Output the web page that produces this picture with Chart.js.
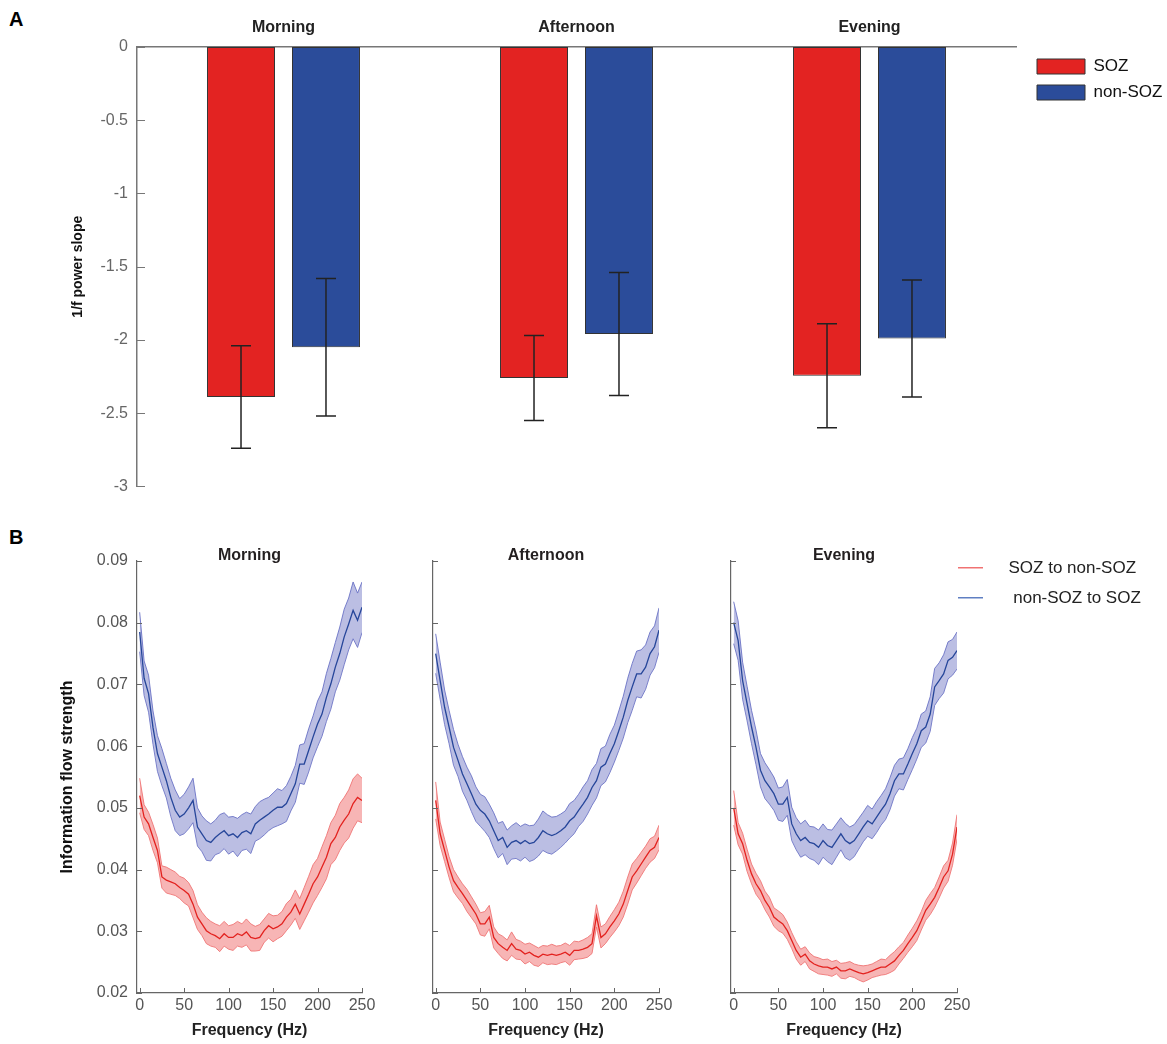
<!DOCTYPE html>
<html>
<head>
<meta charset="utf-8">
<title>1/f power slope and information flow</title>
<script src="https://cdn.jsdelivr.net/npm/chart.js@4.4.6/dist/chart.umd.min.js"></script>
<style>
  html, body { margin: 0; background: #fff; }
  body { width: 1167px; height: 1044px; position: relative; overflow: hidden; font-family: "Liberation Sans", Arial, sans-serif; }
  .box { position: absolute; }
  .panel-label { position: absolute; font-weight: bold; font-size: 20px; line-height: 20px; color: #000; }
</style>
</head>
<body>
<div class="panel-label" style="left:9px;top:9px">A</div>
<div class="panel-label" style="left:9px;top:527px">B</div>
<div class="box" style="left:0;top:0;width:1167px;height:505px"><canvas id="slope"></canvas></div>
<div class="box" style="left:0;top:520px;width:400px;height:524px"><canvas id="flowMorning"></canvas></div>
<div class="box" style="left:423px;top:520px;width:260px;height:524px"><canvas id="flowAfternoon"></canvas></div>
<div class="box" style="left:721px;top:520px;width:446px;height:524px"><canvas id="flowEvening"></canvas></div>
<script>
// ---- panel A: 1/f power slope per time of day ----
const periods = ["Morning", "Afternoon", "Evening"]
const slopeSoz = [-2.39, -2.26, -2.245]
const slopeNonSoz = [-2.05, -1.96, -1.99]
const slopeSozErr = [0.35, 0.29, 0.355]
const slopeNonSozErr = [0.47, 0.42, 0.40]
const slopeTicks = [0, -0.5, -1, -1.5, -2, -2.5, -3]

// ---- panel B: information flow strength vs frequency ----
const freqHz = [
  0, 5, 10, 15, 20, 25, 30, 35, 40, 45,
  50, 55, 60, 65, 70, 75, 80, 85, 90, 95,
  100, 105, 110, 115, 120, 125, 130, 135, 140, 145,
  150, 155, 160, 165, 170, 175, 180, 185, 190, 195,
  200, 205, 210, 215, 220, 225, 230, 235, 240, 245,
  250]
const freqTicks = [0, 50, 100, 150, 200, 250]
const flowTicks = [0.02, 0.03, 0.04, 0.05, 0.06, 0.07, 0.08, 0.09]

const morningNonSozToSoz = [
  0.0785, 0.0710, 0.0685, 0.0630, 0.0588, 0.0566, 0.0544, 0.0517, 0.0496, 0.0485,
  0.0490, 0.0500, 0.0512, 0.0469, 0.0458, 0.0447, 0.0444, 0.0452, 0.0458, 0.0463,
  0.0455, 0.0458, 0.0452, 0.0460, 0.0463, 0.0458, 0.0474, 0.0480, 0.0485, 0.0490,
  0.0496, 0.0501, 0.0501, 0.0507, 0.0523, 0.0539, 0.0571, 0.0571, 0.0593, 0.0615,
  0.0636, 0.0652, 0.0679, 0.0701, 0.0728, 0.0750, 0.0777, 0.0798, 0.0820, 0.0804,
  0.0825]
const morningNonSozToSozSem = [
  0.0032, 0.0028, 0.0030, 0.0027, 0.0029, 0.0030, 0.0028, 0.0031, 0.0033, 0.0030,
  0.0032, 0.0034, 0.0036, 0.0031, 0.0029, 0.0032, 0.0030, 0.0028, 0.0031, 0.0029,
  0.0030, 0.0028, 0.0031, 0.0029, 0.0030, 0.0032, 0.0028, 0.0030, 0.0029, 0.0027,
  0.0028, 0.0030, 0.0027, 0.0029, 0.0028, 0.0030, 0.0031, 0.0033, 0.0035, 0.0034,
  0.0037, 0.0036, 0.0039, 0.0041, 0.0040, 0.0043, 0.0045, 0.0042, 0.0046, 0.0044,
  0.0041]
const morningSozToNonSoz = [
  0.0520, 0.0485, 0.0474, 0.0452, 0.0431, 0.0388, 0.0383, 0.0380, 0.0377, 0.0371,
  0.0366, 0.0360, 0.0344, 0.0323, 0.0312, 0.0301, 0.0296, 0.0293, 0.0288, 0.0296,
  0.0290, 0.0290, 0.0296, 0.0293, 0.0299, 0.0290, 0.0288, 0.0290, 0.0301, 0.0309,
  0.0304, 0.0307, 0.0312, 0.0323, 0.0331, 0.0344, 0.0328, 0.0344, 0.0360, 0.0377,
  0.0388, 0.0404, 0.0420, 0.0442, 0.0452, 0.0469, 0.0480, 0.0490, 0.0507, 0.0517,
  0.0512]
const morningSozToNonSozSem = [
  0.0028, 0.0020, 0.0019, 0.0021, 0.0020, 0.0018, 0.0021, 0.0020, 0.0019, 0.0018,
  0.0020, 0.0019, 0.0022, 0.0020, 0.0019, 0.0021, 0.0020, 0.0019, 0.0021, 0.0020,
  0.0019, 0.0021, 0.0020, 0.0019, 0.0021, 0.0022, 0.0020, 0.0021, 0.0019, 0.0020,
  0.0021, 0.0019, 0.0020, 0.0022, 0.0021, 0.0023, 0.0025, 0.0027, 0.0029, 0.0031,
  0.0030, 0.0033, 0.0035, 0.0034, 0.0036, 0.0038, 0.0037, 0.0039, 0.0040, 0.0038,
  0.0036]

const afternoonNonSozToSoz = [
  0.0750, 0.0706, 0.0663, 0.0631, 0.0598, 0.0577, 0.0555, 0.0539, 0.0523, 0.0506,
  0.0496, 0.0490, 0.0479, 0.0463, 0.0447, 0.0452, 0.0436, 0.0444, 0.0447, 0.0442,
  0.0447, 0.0442, 0.0444, 0.0452, 0.0463, 0.0458, 0.0455, 0.0458, 0.0463, 0.0469,
  0.0479, 0.0485, 0.0496, 0.0506, 0.0517, 0.0533, 0.0544, 0.0566, 0.0571, 0.0588,
  0.0604, 0.0625, 0.0647, 0.0674, 0.0696, 0.0717, 0.0717, 0.0728, 0.0750, 0.0761,
  0.0788]
const afternoonNonSozToSozSem = [
  0.0032, 0.0030, 0.0028, 0.0027, 0.0029, 0.0026, 0.0028, 0.0027, 0.0029, 0.0028,
  0.0026, 0.0028, 0.0027, 0.0029, 0.0028, 0.0026, 0.0028, 0.0027, 0.0029, 0.0028,
  0.0027, 0.0029, 0.0028, 0.0030, 0.0032, 0.0031, 0.0030, 0.0028, 0.0027, 0.0026,
  0.0028, 0.0027, 0.0026, 0.0028, 0.0027, 0.0029, 0.0028, 0.0030, 0.0029, 0.0031,
  0.0030, 0.0032, 0.0034, 0.0036, 0.0038, 0.0037, 0.0039, 0.0036, 0.0035, 0.0034,
  0.0036]
const afternoonSozToNonSoz = [
  0.0512, 0.0458, 0.0431, 0.0404, 0.0382, 0.0371, 0.0361, 0.0350, 0.0339, 0.0328,
  0.0312, 0.0312, 0.0323, 0.0290, 0.0280, 0.0274, 0.0269, 0.0280, 0.0271, 0.0269,
  0.0263, 0.0266, 0.0261, 0.0258, 0.0263, 0.0261, 0.0263, 0.0261, 0.0263, 0.0266,
  0.0261, 0.0269, 0.0269, 0.0271, 0.0274, 0.0280, 0.0325, 0.0290, 0.0296, 0.0307,
  0.0317, 0.0328, 0.0344, 0.0366, 0.0388, 0.0398, 0.0409, 0.0420, 0.0431, 0.0436,
  0.0452]
const afternoonSozToNonSozSem = [
  0.0030, 0.0019, 0.0018, 0.0017, 0.0018, 0.0017, 0.0016, 0.0018, 0.0017, 0.0016,
  0.0018, 0.0020, 0.0019, 0.0017, 0.0016, 0.0018, 0.0017, 0.0019, 0.0016, 0.0015,
  0.0016, 0.0015, 0.0016, 0.0015, 0.0014, 0.0015, 0.0016, 0.0015, 0.0014, 0.0015,
  0.0016, 0.0015, 0.0014, 0.0015, 0.0016, 0.0016, 0.0018, 0.0017, 0.0016, 0.0017,
  0.0018, 0.0019, 0.0021, 0.0022, 0.0021, 0.0020, 0.0019, 0.0018, 0.0019, 0.0018,
  0.0020]

const eveningNonSozToSoz = [
  0.0800, 0.0771, 0.0706, 0.0669, 0.0631, 0.0598, 0.0561, 0.0544, 0.0534, 0.0523,
  0.0506, 0.0506, 0.0517, 0.0474, 0.0458, 0.0447, 0.0452, 0.0444, 0.0442, 0.0436,
  0.0447, 0.0439, 0.0436, 0.0447, 0.0458, 0.0447, 0.0442, 0.0447, 0.0458, 0.0469,
  0.0479, 0.0474, 0.0485, 0.0496, 0.0506, 0.0523, 0.0544, 0.0555, 0.0555, 0.0571,
  0.0588, 0.0604, 0.0625, 0.0631, 0.0652, 0.0696, 0.0706, 0.0717, 0.0739, 0.0744,
  0.0755]
const eveningNonSozToSozSem = [
  0.0034, 0.0032, 0.0030, 0.0028, 0.0027, 0.0028, 0.0027, 0.0029, 0.0028, 0.0027,
  0.0026, 0.0028, 0.0029, 0.0027, 0.0026, 0.0027, 0.0028, 0.0026, 0.0027, 0.0028,
  0.0027, 0.0026, 0.0028, 0.0027, 0.0026, 0.0028, 0.0027, 0.0026, 0.0025, 0.0024,
  0.0025, 0.0024, 0.0025, 0.0024, 0.0025, 0.0026, 0.0025, 0.0024, 0.0026, 0.0025,
  0.0026, 0.0025, 0.0027, 0.0026, 0.0028, 0.0030, 0.0029, 0.0031, 0.0030, 0.0029,
  0.0030]
const eveningSozToNonSoz = [
  0.0500, 0.0458, 0.0442, 0.0415, 0.0393, 0.0377, 0.0366, 0.0350, 0.0339, 0.0323,
  0.0317, 0.0312, 0.0301, 0.0285, 0.0269, 0.0258, 0.0263, 0.0252, 0.0247, 0.0244,
  0.0242, 0.0242, 0.0239, 0.0242, 0.0236, 0.0236, 0.0239, 0.0236, 0.0233, 0.0231,
  0.0233, 0.0236, 0.0239, 0.0242, 0.0242, 0.0247, 0.0252, 0.0261, 0.0269, 0.0280,
  0.0290, 0.0301, 0.0317, 0.0334, 0.0344, 0.0355, 0.0371, 0.0388, 0.0398, 0.0425,
  0.0469]
const eveningSozToNonSozSem = [
  0.0028, 0.0018, 0.0017, 0.0018, 0.0016, 0.0017, 0.0016, 0.0015, 0.0016, 0.0015,
  0.0016, 0.0015, 0.0014, 0.0013, 0.0014, 0.0013, 0.0012, 0.0013, 0.0012, 0.0013,
  0.0012, 0.0013, 0.0012, 0.0011, 0.0012, 0.0013, 0.0012, 0.0011, 0.0012, 0.0013,
  0.0012, 0.0011, 0.0012, 0.0013, 0.0012, 0.0014, 0.0015, 0.0014, 0.0013, 0.0014,
  0.0015, 0.0016, 0.0015, 0.0016, 0.0017, 0.0016, 0.0017, 0.0018, 0.0017, 0.0018,
  0.0020]

const FONT = '"Liberation Sans", Arial, sans-serif'
Chart.defaults.font.family = FONT
Chart.defaults.animation = false

const RED = "#e32322"
const BLUE = "#2b4c9a"
const red = { line: "#e3221f", edge: "rgba(238, 110, 110, 0.85)", fill: "rgba(240, 120, 120, 0.55)", legend: "#f07272" }
const blue = { line: "#26469a", edge: "rgba(100, 108, 195, 0.85)", fill: "rgba(120, 125, 200, 0.5)", legend: "#5f7fc2" }

// MATLAB style: short tick marks pointing into the plot
const innerTicks = {
  id: "innerTicks",
  afterDraw(chart, args, opts) {
    const { ctx, chartArea } = chart
    ctx.save()
    ctx.strokeStyle = opts.color || "#666"
    ctx.lineWidth = 1
    ctx.beginPath()
    const y = chart.scales.y
    if (opts.y) y.ticks.forEach((t) => {
      const py = Math.round(y.getPixelForValue(t.value)) + 0.5
      ctx.moveTo(chartArea.left, py)
      ctx.lineTo(chartArea.left + opts.y, py)
    })
    const x = chart.scales.x
    if (opts.x) x.ticks.forEach((t) => {
      const px = Math.round(x.getPixelForValue(t.value)) + 0.5
      ctx.moveTo(px, chartArea.bottom)
      ctx.lineTo(px, chartArea.bottom - opts.x)
    })
    ctx.stroke()
    ctx.restore()
  }
}

// mean +/- error whiskers on top of each bar
const errorBars = {
  id: "errorBars",
  afterDatasetsDraw(chart, args, opts) {
    const { ctx } = chart
    const y = chart.scales.y
    ctx.save()
    ctx.strokeStyle = opts.color
    ctx.lineWidth = opts.width
    chart.data.datasets.forEach((ds, i) => {
      if (!ds.errors) return
      chart.getDatasetMeta(i).data.forEach((bar, j) => {
        const top = y.getPixelForValue(ds.data[j] + ds.errors[j])
        const bottom = y.getPixelForValue(ds.data[j] - ds.errors[j])
        ctx.beginPath()
        ctx.moveTo(bar.x, top)
        ctx.lineTo(bar.x, bottom)
        ctx.moveTo(bar.x - opts.cap, top)
        ctx.lineTo(bar.x + opts.cap, top)
        ctx.moveTo(bar.x - opts.cap, bottom)
        ctx.lineTo(bar.x + opts.cap, bottom)
        ctx.stroke()
      })
    })
    ctx.restore()
  }
}

// move the legend box after layout (plot area stays put) and let it
// run to the canvas edge so the labels are not clipped
const legendNudge = {
  id: "legendNudge",
  afterLayout(chart, args, opts) {
    const lg = chart.legend
    if (!lg) return
    lg.left += opts.dx || 0
    lg.top += opts.dy || 0
    lg.right = chart.width
    lg.bottom = chart.height
    lg.width = lg.right - lg.left
    lg.height = lg.bottom - lg.top
  }
}

new Chart(document.getElementById("slope"), {
  type: "bar",
  data: {
    labels: periods,
    datasets: [
      { label: "SOZ", data: slopeSoz, errors: slopeSozErr, backgroundColor: RED, borderColor: "#333", borderWidth: 1, borderSkipped: false },
      { label: "non-SOZ", data: slopeNonSoz, errors: slopeNonSozErr, backgroundColor: BLUE, borderColor: "#333", borderWidth: 1, borderSkipped: false }
    ]
  },
  options: {
    responsive: true,
    maintainAspectRatio: false,
    categoryPercentage: 0.58,
    barPercentage: 0.8,
    layout: { padding: { left: 0, right: 21, top: 0, bottom: 16 } },
    scales: {
      x: {
        position: "top",
        grid: { display: false, drawTicks: false },
        border: { display: true, color: "#777", width: 1.5 },
        ticks: { color: "#222", font: { size: 16, weight: "bold" }, padding: 10 },
        afterFit: (s) => { s.height = 47 }
      },
      y: {
        min: -3,
        max: 0,
        afterBuildTicks: (s) => { s.ticks = slopeTicks.map((v) => ({ value: v })) },
        grid: { display: false, drawTicks: false },
        border: { display: true, color: "#777", width: 1.5 },
        ticks: { color: "#666", font: { size: 16 }, padding: 9, callback: (v) => String(v) },
        title: { display: true, text: "1/f power slope", color: "#111", font: { size: 14, weight: "bold" }, padding: { top: 70, bottom: 0 } },
        afterFit: (s) => { s.width = 137 }
      }
    },
    plugins: {
      legend: {
        position: "right",
        align: "start",
        maxWidth: 130,
        labels: { boxWidth: 48, boxHeight: 15, padding: 9, color: "#111", font: { size: 17 } }
      },
      tooltip: { enabled: false },
      legendNudge: { dx: 12, dy: 49 },
      innerTicks: { y: 8, color: "#777" },
      errorBars: { color: "#222", width: 1.5, cap: 10 }
    }
  },
  plugins: [legendNudge, innerTicks, errorBars]
})

// little line swatch with a gap after it, used as legend symbol in panel B
function legendLine(color) {
  const c = document.createElement("canvas")
  c.width = 42
  c.height = 3
  const g = c.getContext("2d")
  g.fillStyle = color
  g.fillRect(0, 0, 25, 2)
  return c
}

function xy(values, sem, sign) {
  return values.map((v, i) => ({ x: freqHz[i], y: sem ? v + sign * sem[i] : v }))
}

function flowChart(id, title, soz, sozSem, nonSoz, nonSozSem, opts) {
  const band = (mean, sem, c) => [
    { label: "", data: xy(mean, sem, 1), borderColor: c.edge, borderWidth: 1, backgroundColor: c.fill, fill: "+1", pointRadius: 0 },
    { label: "", data: xy(mean, sem, -1), borderColor: c.edge, borderWidth: 1, fill: false, pointRadius: 0 }
  ]
  return new Chart(document.getElementById(id), {
    type: "line",
    data: {
      datasets: [
        { label: "SOZ to non-SOZ", data: xy(soz), borderColor: red.line, borderWidth: 1.3, pointRadius: 0, pointStyle: legendLine(red.legend) },
        { label: " non-SOZ to SOZ", data: xy(nonSoz), borderColor: blue.line, borderWidth: 1.3, pointRadius: 0, pointStyle: legendLine(blue.legend) },
        ...band(soz, sozSem, red),
        ...band(nonSoz, nonSozSem, blue)
      ]
    },
    options: {
      responsive: true,
      maintainAspectRatio: false,
      layout: { padding: { left: 0, right: opts.padRight, top: 0, bottom: 0 } },
      scales: {
        x: {
          type: "linear",
          min: -3,
          max: 250,
          afterBuildTicks: (s) => { s.ticks = freqTicks.map((v) => ({ value: v })) },
          grid: { display: false, drawTicks: false },
          border: { display: true, color: "#666", width: 1.2 },
          ticks: { color: "#555", font: { size: 16 }, padding: 3 },
          title: { display: true, text: "Frequency (Hz)", color: "#222", font: { size: 16, weight: "bold" }, padding: { top: 0, bottom: 4 } },
          afterFit: (s) => { s.height = 51 }
        },
        y: {
          min: 0.02,
          max: 0.09,
          afterBuildTicks: (s) => { s.ticks = flowTicks.map((v) => ({ value: v })) },
          grid: { display: false, drawTicks: false },
          border: { display: true, color: "#666", width: 1.2 },
          ticks: { display: opts.yLabels, color: "#555", font: { size: 16 }, padding: 9, callback: (v) => v.toFixed(2) },
          title: { display: opts.yLabels, text: "Information flow strength", color: "#111", font: { size: 16, weight: "bold" }, padding: { top: 58, bottom: 0 } },
          afterFit: (s) => { s.width = opts.yWidth }
        }
      },
      plugins: {
        title: { display: true, text: title, color: "#231f20", fullSize: false, font: { size: 16, weight: "bold" }, padding: { top: 26.4, bottom: -4.6 } },
        legend: {
          display: opts.legend,
          position: "right",
          align: "start",
          maxWidth: 190,
          labels: {
            usePointStyle: true,
            pointStyleWidth: 42,
            padding: 13,
            color: "#222",
            font: { size: 17 },
            filter: (item) => item.text !== ""
          }
        },
        tooltip: { enabled: false },
        legendNudge: { dx: -12, dy: 26.5 },
        innerTicks: { x: 5, y: 5, color: "#666" }
      }
    },
    plugins: [legendNudge, innerTicks]
  })
}

flowChart("flowMorning", "Morning", morningSozToNonSoz, morningSozToNonSozSem, morningNonSozToSoz, morningNonSozToSozSem,
  { padRight: 38, yWidth: 137, yLabels: true, legend: false })
flowChart("flowAfternoon", "Afternoon", afternoonSozToNonSoz, afternoonSozToNonSozSem, afternoonNonSozToSoz, afternoonNonSozToSozSem,
  { padRight: 24, yWidth: 10, yLabels: false, legend: false })
flowChart("flowEvening", "Evening", eveningSozToNonSoz, eveningSozToNonSozSem, eveningNonSozToSoz, eveningNonSozToSozSem,
  { padRight: 20, yWidth: 10, yLabels: false, legend: true })
</script>
</body>
</html>
